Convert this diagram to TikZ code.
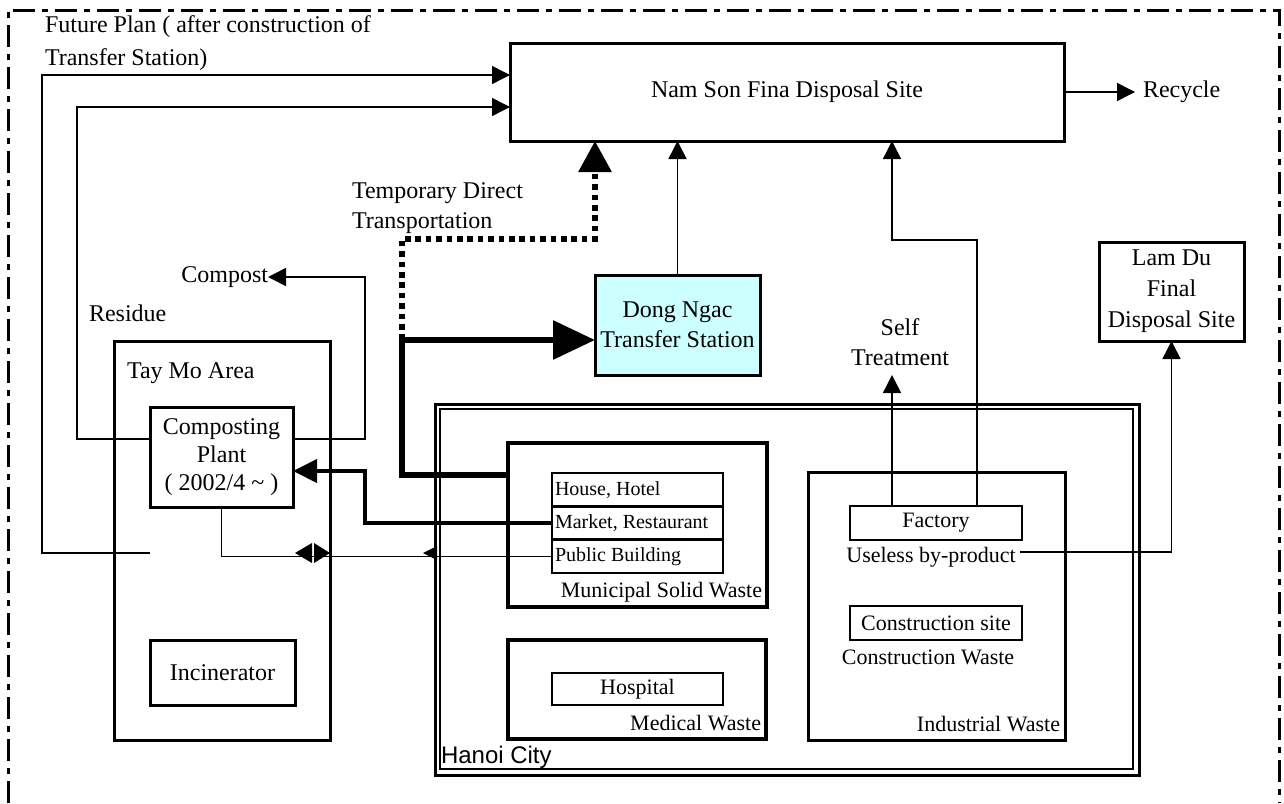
\documentclass[tikz,border=0pt]{standalone}
\usepackage{fontspec}
\setmainfont{Liberation Serif}
\setsansfont{Liberation Sans}
\usetikzlibrary{arrows.meta,calc}
\definecolor{lcyan}{HTML}{CCFFFF}
\begin{document}
\begin{tikzpicture}[x=0.5pt,y=-0.5pt,
  box/.style={draw, line width=1.5pt, rectangle, inner sep=0pt, outer sep=0pt, align=center, font=\fontsize{12}{15}\selectfont},
  subbox/.style={box, line width=1.3pt, font=\fontsize{11}{13}\selectfont},
  lbl/.style={inner sep=0pt, outer sep=0pt, font=\fontsize{12}{15}\selectfont},
  slbl/.style={inner sep=0pt, outer sep=0pt, font=\fontsize{11}{13}\selectfont},
  tlbl/.style={inner sep=0pt, outer sep=0pt, font=\fontsize{10}{12}\selectfont},
  ln/.style={line width=0.75pt},
  conn/.style={ln, -{Triangle[length=9pt,width=9pt]}},
  thickconn/.style={line width=2pt, -{Triangle[length=12pt,width=11.5pt]}},
  heavyconn/.style={line width=3pt, -{Triangle[length=21pt,width=19pt]}},
  dotconn/.style={line width=3pt, dash pattern=on 2.8pt off 2.4pt, -{Triangle[length=15.5pt,width=16pt]}},
  frame/.style={line width=1.5pt, dash pattern=on 11pt off 3.5pt on 3pt off 3.5pt}]
\useasboundingbox (0,0) rectangle (1284,803);
\clip (0,0) rectangle (1284,803);
% outer frame
\draw[frame] (8,803) -- (8,10) -- (1279,10) -- (1279,803);

% boxes
\node[box, minimum width=277pt, minimum height=49pt] (nam) at (787,92) {Nam Son Fina Disposal Site};
\node[box, fill=lcyan, minimum width=82.5pt, minimum height=50pt] (dong) at (677.5,325) {Dong Ngac\\Transfer Station};
\node[box, font=\fontsize{12}{15.5}\selectfont, minimum width=72.5pt, minimum height=49.5pt] (lamdu) at (1171.5,291.5) {Lam Du\\Final\\Disposal Site};
\node[box, minimum width=108pt, minimum height=199.5pt] (taymo) at (222,540.5) {};
\node[box, font=\fontsize{12}{14}\selectfont, minimum width=71.5pt, minimum height=50pt] (comp) at (221.5,457) {Composting\\Plant\\( 2002/4 \textasciitilde{} )};
\node[box, minimum width=72.5pt, minimum height=32.5pt] (incin) at (222.5,672.5) {Incinerator};

\node[box, minimum width=352pt, minimum height=185.5pt] (hanoi) at (787,589.5) {};
\draw[line width=1pt] ([shift={(5,5)}]hanoi.north west) rectangle ([shift={(-6,-6)}]hanoi.south east);

\node[box, line width=2.2pt, minimum width=129.5pt, minimum height=82pt] (msw) at (637.5,525) {};
\node[subbox, minimum width=85.5pt, minimum height=16.67pt] (house) at (637.5,489.7) {};
\node[subbox, minimum width=85.5pt, minimum height=16.67pt] (market) at (637.5,523) {};
\node[subbox, minimum width=85.5pt, minimum height=16.67pt] (public) at (637.5,556.3) {};
\node[tlbl, anchor=west] at ([xshift=1.5pt]house.west) {House, Hotel};
\node[tlbl, anchor=west] at ([xshift=1.5pt]market.west) {Market, Restaurant};
\node[tlbl, anchor=west] at ([xshift=1.5pt]public.west) {Public Building};

\node[box, line width=1.7pt, minimum width=129pt, minimum height=49.5pt] (medical) at (637,689.5) {};
\node[subbox, minimum width=85.5pt, minimum height=16pt] (hospital) at (637.5,689) {Hospital};

\node[box, minimum width=128.5pt, minimum height=134pt] (industrial) at (936.5,606) {};
\node[subbox, minimum width=86pt, minimum height=17pt] (factory) at (936,523) {Factory};
\node[subbox, minimum width=86pt, minimum height=17pt] (constr) at (936,623) {Construction site};

% labels
\node[lbl, anchor=west, align=left, font=\fontsize{12}{16.5}\selectfont] (future) at (45,43.5) {Future Plan ( after construction of\\Transfer Station)};
\node[lbl, anchor=west, align=left] (temp) at (352,208) {Temporary Direct\\Transportation};
\node[lbl, align=center] (selft) at (900,342) {Self\\Treatment};
\node[lbl, anchor=east] (compost) at (268,277) {Compost};
\node[lbl, anchor=west] (residue) at (89,313) {Residue};
\node[lbl, anchor=west] (taymolbl) at (127,373) {Tay Mo Area};
\node[lbl, anchor=west] (recycle) at (1143,92) {Recycle};
\node[slbl, anchor=east] (mswlbl) at (762,592) {Municipal Solid Waste};
\node[slbl, anchor=east] (medlbl) at (761,723) {Medical Waste};
\node[slbl, anchor=east] (indlbl) at (1060,724) {Industrial Waste};
\node[slbl] (conwlbl) at (928,657) {Construction Waste};
\node[slbl] (useless) at (931,557) {Useless by-product};
\node[lbl, anchor=west, font=\sffamily\fontsize{12}{14}\selectfont] (hanoilbl) at (441,757) {Hanoi City};

% helper coordinates
\coordinate (y75) at (0,75);
\coordinate (y107) at (0,107);
\coordinate (y471) at (0,471);
\coordinate (y475) at (0,475);
\coordinate (y340) at (0,340);
\coordinate (x892) at (892,0);
\coordinate (x977) at (977,0);
\coordinate (a1s) at (150,553);
\coordinate (a2s) at (150,439);
\coordinate (cps) at (293,439);
\coordinate (dcorner) at (402,340);
\coordinate (dtop) at (595,239);
\coordinate (stip) at (892,375);
\coordinate (ul) at (1020,552);
\coordinate (rtip) at (1135,92);

% connectors
\draw[conn] (a1s) -| (42,75) -- (nam.west |- y75);
\draw[conn] (a2s) -| (77,107) -- (nam.west |- y107);
\draw[conn] (cps) -| (365,277) -- (compost.east);
\draw[conn] (nam.east) -- (rtip);
\draw[thickconn] (market.west) -| (365,471) -- (comp.east |- y471);
\draw[heavyconn] (msw.west |- y475) -| (dcorner) -- (dong.west |- y340);
\draw[dotconn] (dcorner) |- (dtop) -- (nam.south -| dtop);
\draw[conn] (dong.north) -- (dong.north |- nam.south);
\draw[conn] (factory.north -| x977) |- (892,240) -- (nam.south -| x892);
\draw[conn] (factory.north -| x892) -- (stip);
\draw[conn] (ul) -| (lamdu.south);
\draw[ln] (comp.south) |- (public.west);
% arrowheads on the bottom line
\fill (295,553) -- (312,543) -- (312,563) -- cycle;
\fill (330,553) -- (314,543) -- (314,563) -- cycle;
\fill (423,553) -- (437,546) -- (437,560) -- cycle;
\end{tikzpicture}
\end{document}
